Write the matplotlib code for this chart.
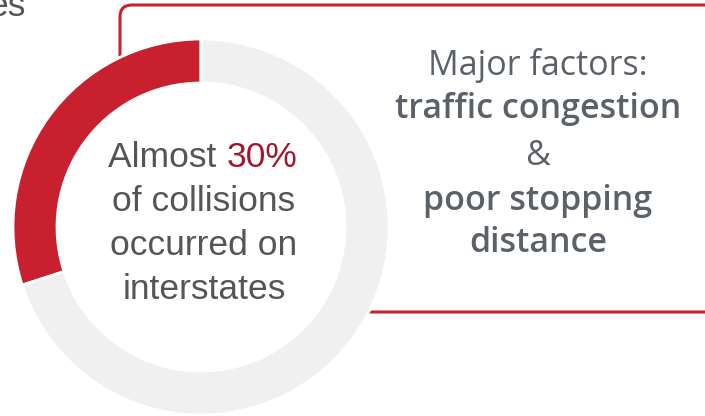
import matplotlib.pyplot as plt
from matplotlib.patches import FancyBboxPatch, Circle

# datos del grafico
shares = [30, 70]
share_colors = ["#C8202F", "#F0F0F0"]
center_lines = ["of collisions", "occurred on", "interstates"]
factor_lines = ["Major factors:", "traffic congestion", "&", "poor stopping", "distance"]

W, H = 705, 416
fig = plt.figure(figsize=(W / 100, H / 100), dpi=100)
ax = fig.add_axes([0, 0, 1, 1])

# caja roja detras del anillo
box = FancyBboxPatch((120, H - 312), 700, 307,
                     boxstyle="round,pad=0,rounding_size=12",
                     fill=False, edgecolor="#C8202F", linewidth=2.2, zorder=0.5)
ax.add_patch(box)

# anillo
cx, cy = 201, H - 227
ax.pie(shares, colors=share_colors, startangle=90, counterclock=True,
       center=(cx, cy), radius=188,
       wedgeprops=dict(width=44, edgecolor="white", linewidth=2))
ax.add_patch(Circle((cx, cy), 143, facecolor="white", edgecolor="none", zorder=1.5))

ax.set_xlim(0, W)
ax.set_ylim(0, H)
ax.set_aspect("equal")
ax.axis("off")

gray = "#555555"
left_font = "Liberation Sans"
fs = 25.5

# "Almost 30%" con el numero en rojo, centrado en el anillo
t1 = ax.text(0, H - 167, "Almost ", fontsize=fs, color=gray, family=left_font,
             ha="left", va="baseline", zorder=3)
t2 = ax.text(0, H - 167, "30%", fontsize=fs, color="#A3162A", family=left_font,
             ha="left", va="baseline", zorder=3)
fig.canvas.draw()
w1 = t1.get_window_extent().width
w2 = t2.get_window_extent().width
x0 = 203 - (w1 + w2) / 2
t1.set_x(x0)
t2.set_x(x0 + w1)

for i, line in enumerate(center_lines):
    ax.text(204, H - 211 - 44 * i, line, fontsize=fs, color=gray, family=left_font,
            ha="center", va="baseline", zorder=3)

right_font = "Open Sans"
baselines = [75, 118, 165, 210, 252]
weights = ["normal", "semibold", "normal", "semibold", "semibold"]
for line, yb, wt in zip(factor_lines, baselines, weights):
    ax.text(538, H - yb, line, fontsize=fs - 1, color="#5B6168", family=right_font,
            weight=wt, ha="center", va="baseline", zorder=3)

# resto de texto arriba a la izquierda
ax.text(26, H - 16, "es", fontsize=fs, color=gray, family=left_font,
        ha="right", va="baseline", zorder=3)

fig.savefig("out.png", dpi=100)
